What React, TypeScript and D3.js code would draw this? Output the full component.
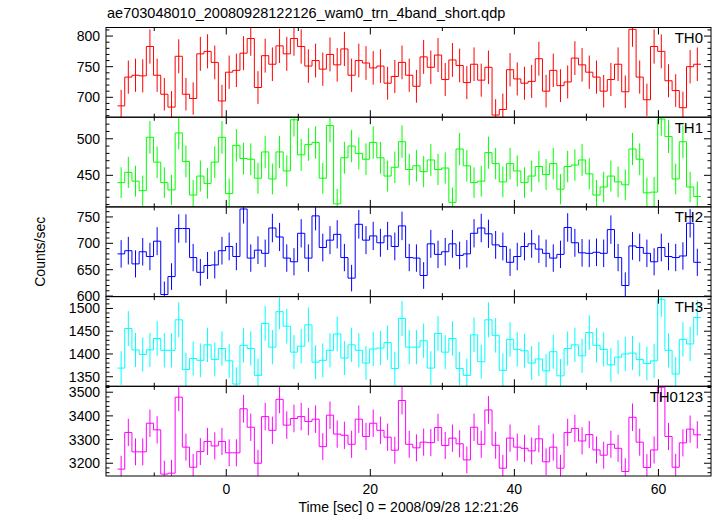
import React from 'react';
import * as d3 from 'd3';

const TITLE = 'ae703048010_20080928122126_wam0_trn_4band_short.qdp';
const X_LABEL = 'Time [sec] 0 = 2008/09/28 12:21:26';
const Y_LABEL = 'Counts/sec';

// time bins: center of first bin and bin width (sec)
const BIN_START = -14.6;
const BIN_WIDTH = 1;

const TH0 = [
  686, 733, 736, 735, 783, 736, 705, 684, 767, 705, 698, 771, 775, 757, 694, 741, 744, 772, 796, 716,
  768, 754, 784, 771, 796, 783, 751, 760, 746, 770, 753, 779, 736, 760, 756, 748, 751, 723, 734, 757,
  736, 718, 766, 749, 769, 729, 761, 752, 724, 754, 728, 749, 671, 680, 745, 730, 723, 726, 763, 710,
  744, 719, 725, 764, 753, 741, 733, 710, 729, 754, 709, 811, 733, 696, 783, 775, 727, 711, 683, 750,
  754,
];
const TH1 = [
  440, 454, 442, 429, 502, 468, 440, 430, 508, 469, 423, 449, 439, 468, 502, 425, 491, 473, 472, 446,
  482, 445, 482, 456, 526, 478, 492, 495, 446, 518, 411, 474, 490, 480, 472, 495, 474, 449, 461, 496,
  458, 463, 455, 471, 458, 460, 413, 486, 463, 440, 442, 481, 466, 441, 466, 456, 440, 449, 462, 451,
  466, 431, 462, 464, 471, 452, 423, 434, 449, 441, 437, 486, 472, 426, 427, 527, 503, 445, 496, 434,
  421,
];
const TH2 = [
  680, 686, 661, 684, 675, 704, 603, 637, 728, 728, 673, 645, 658, 659, 686, 694, 675, 765, 672, 687,
  681, 729, 712, 672, 665, 719, 672, 752, 692, 706, 717, 673, 634, 736, 706, 714, 701, 714, 694, 733,
  673, 672, 639, 699, 679, 684, 699, 677, 680, 719, 729, 718, 697, 694, 664, 675, 694, 699, 689, 681,
  672, 679, 730, 701, 682, 681, 683, 681, 726, 673, 620, 695, 692, 681, 665, 692, 675, 673, 676, 738,
  664,
];
const TH3 = [
  1369, 1456, 1409, 1399, 1409, 1434, 1408, 1408, 1475, 1366, 1390, 1386, 1420, 1388, 1412, 1385, 1334, 1419, 1412, 1353,
  1467, 1415, 1493, 1461, 1404, 1417, 1464, 1382, 1386, 1408, 1444, 1391, 1420, 1408, 1380, 1411, 1413, 1425, 1368, 1478,
  1415, 1415, 1429, 1369, 1445, 1404, 1434, 1368, 1353, 1442, 1383, 1475, 1441, 1364, 1432, 1410, 1407, 1380, 1389, 1363,
  1405, 1352, 1412, 1420, 1396, 1447, 1419, 1410, 1376, 1393, 1400, 1402, 1388, 1379, 1385, 1520, 1408, 1356, 1432, 1422,
  1480,
];
const TH0123 = [
  3175, 3330, 3248, 3248, 3369, 3341, 3154, 3158, 3479, 3268, 3183, 3249, 3292, 3273, 3292, 3244, 3244, 3430, 3352, 3200,
  3397, 3339, 3470, 3361, 3389, 3397, 3376, 3386, 3270, 3403, 3323, 3318, 3280, 3386, 3313, 3369, 3339, 3310, 3255, 3465,
  3280, 3265, 3289, 3287, 3351, 3275, 3306, 3282, 3214, 3352, 3280, 3425, 3276, 3179, 3306, 3268, 3263, 3252, 3303, 3206,
  3268, 3179, 3330, 3347, 3294, 3321, 3256, 3234, 3280, 3263, 3165, 3394, 3289, 3182, 3256, 3521, 3313, 3183, 3286, 3344,
  3320,
];

const X_MAJOR = [0, 20, 40, 60];
const X_MINOR = [-10, 10, 30, 50];

const PANELS = [
  { name: 'TH0', values: TH0, color: '#ff0000', domain: [667.5, 814], major: [700, 750, 800], minor: 10 },
  { name: 'TH1', values: TH1, color: '#00ff00', domain: [406.8, 529.5], major: [450, 500], minor: 10 },
  { name: 'TH2', values: TH2, color: '#0000ff', domain: [599, 769], major: [600, 650, 700, 750], minor: 10 },
  { name: 'TH3', values: TH3, color: '#00ffff', domain: [1329, 1526], major: [1350, 1400, 1450, 1500], minor: 10 },
  { name: 'TH0123', values: TH0123, color: '#ff00ff', domain: [3146, 3525], major: [3200, 3300, 3400, 3500], minor: 20 },
];

const W = 717;
const H = 516;
const LEFT = 106;
const RIGHT = 711;
const TOP = 27.5;
const BOTTOM = 476;
const FONT = '"Liberation Sans", Arial, Helvetica, sans-serif';

export default function App() {
  const x = d3.scaleLinear().domain([-16.7, 67.3]).range([LEFT, RIGHT]);
  const panelH = (BOTTOM - TOP) / PANELS.length;
  const majLen = 7;
  const minLen = 3.5;

  return (
    <svg width={W} height={H} style={{ position: 'absolute', left: 0, top: 0, background: '#fff' }}
      fontFamily={FONT}>
      <defs>
        {PANELS.map((p, i) => (
          <clipPath id={`clip${i}`} key={p.name}>
            <rect x={LEFT} y={TOP + i * panelH} width={RIGHT - LEFT} height={panelH} />
          </clipPath>
        ))}
      </defs>
      <text x={107} y={18} fontSize={14.5} fill="#000">{TITLE}</text>
      {PANELS.map((p, i) => {
        const y0 = TOP + i * panelH;
        const y1 = y0 + panelH;
        const y = d3.scaleLinear().domain(p.domain).range([y1, y0]);
        const pts: [number, number][] = [];
        p.values.forEach((v, k) => {
          const t = BIN_START + k * BIN_WIDTH;
          pts.push([x(t - BIN_WIDTH / 2), y(v)]);
          pts.push([x(t + BIN_WIDTH / 2), y(v)]);
        });
        const line = d3.line();
        const minorTicks = d3.range(Math.ceil(p.domain[0] / p.minor) * p.minor, p.domain[1], p.minor)
          .filter((v) => !p.major.includes(v));
        return (
          <g key={p.name}>
            <g clipPath={`url(#clip${i})`}>
              {p.values.map((v, k) => {
                const t = BIN_START + k * BIN_WIDTH;
                const err = Math.sqrt(v * BIN_WIDTH) / BIN_WIDTH;
                return (
                  <line key={k} x1={x(t)} x2={x(t)} y1={y(v - err)} y2={y(v + err)}
                    stroke={p.color} strokeWidth={1} />
                );
              })}
              <path d={line(pts) || ''} fill="none" stroke={p.color} strokeWidth={1} />
            </g>
            {/* y ticks */}
            {p.major.map((v) => (
              <g key={`M${v}`}>
                <line x1={LEFT} x2={LEFT + majLen} y1={y(v)} y2={y(v)} stroke="#000" />
                <line x1={RIGHT} x2={RIGHT - majLen} y1={y(v)} y2={y(v)} stroke="#000" />
                <text x={LEFT - 6} y={y(v)} dy="0.36em" textAnchor="end" fontSize={14}>{v}</text>
              </g>
            ))}
            {minorTicks.map((v) => (
              <g key={`m${v}`}>
                <line x1={LEFT} x2={LEFT + minLen} y1={y(v)} y2={y(v)} stroke="#000" />
                <line x1={RIGHT} x2={RIGHT - minLen} y1={y(v)} y2={y(v)} stroke="#000" />
              </g>
            ))}
            {/* x ticks top & bottom */}
            {X_MAJOR.map((t) => (
              <g key={`xM${t}`}>
                <line x1={x(t)} x2={x(t)} y1={y0} y2={y0 + majLen} stroke="#000" />
                <line x1={x(t)} x2={x(t)} y1={y1} y2={y1 - majLen} stroke="#000" />
              </g>
            ))}
            {X_MINOR.map((t) => (
              <g key={`xm${t}`}>
                <line x1={x(t)} x2={x(t)} y1={y0} y2={y0 + minLen} stroke="#000" />
                <line x1={x(t)} x2={x(t)} y1={y1} y2={y1 - minLen} stroke="#000" />
              </g>
            ))}
            <rect x={LEFT} y={y0} width={RIGHT - LEFT} height={panelH} fill="none" stroke="#000" strokeWidth={1} />
            <text x={703} y={y0 + 15.5} textAnchor="end" fontSize={15}>{p.name}</text>
          </g>
        );
      })}
      {X_MAJOR.map((t) => (
        <text key={`xl${t}`} x={x(t)} y={BOTTOM + 18} textAnchor="middle" fontSize={14}>{t}</text>
      ))}
      <text x={(LEFT + RIGHT) / 2} y={512} textAnchor="middle" fontSize={14}>{X_LABEL}</text>
      <text transform={`translate(45,${(TOP + BOTTOM) / 2}) rotate(-90)`} textAnchor="middle" fontSize={14}>
        {Y_LABEL}
      </text>
    </svg>
  );
}
